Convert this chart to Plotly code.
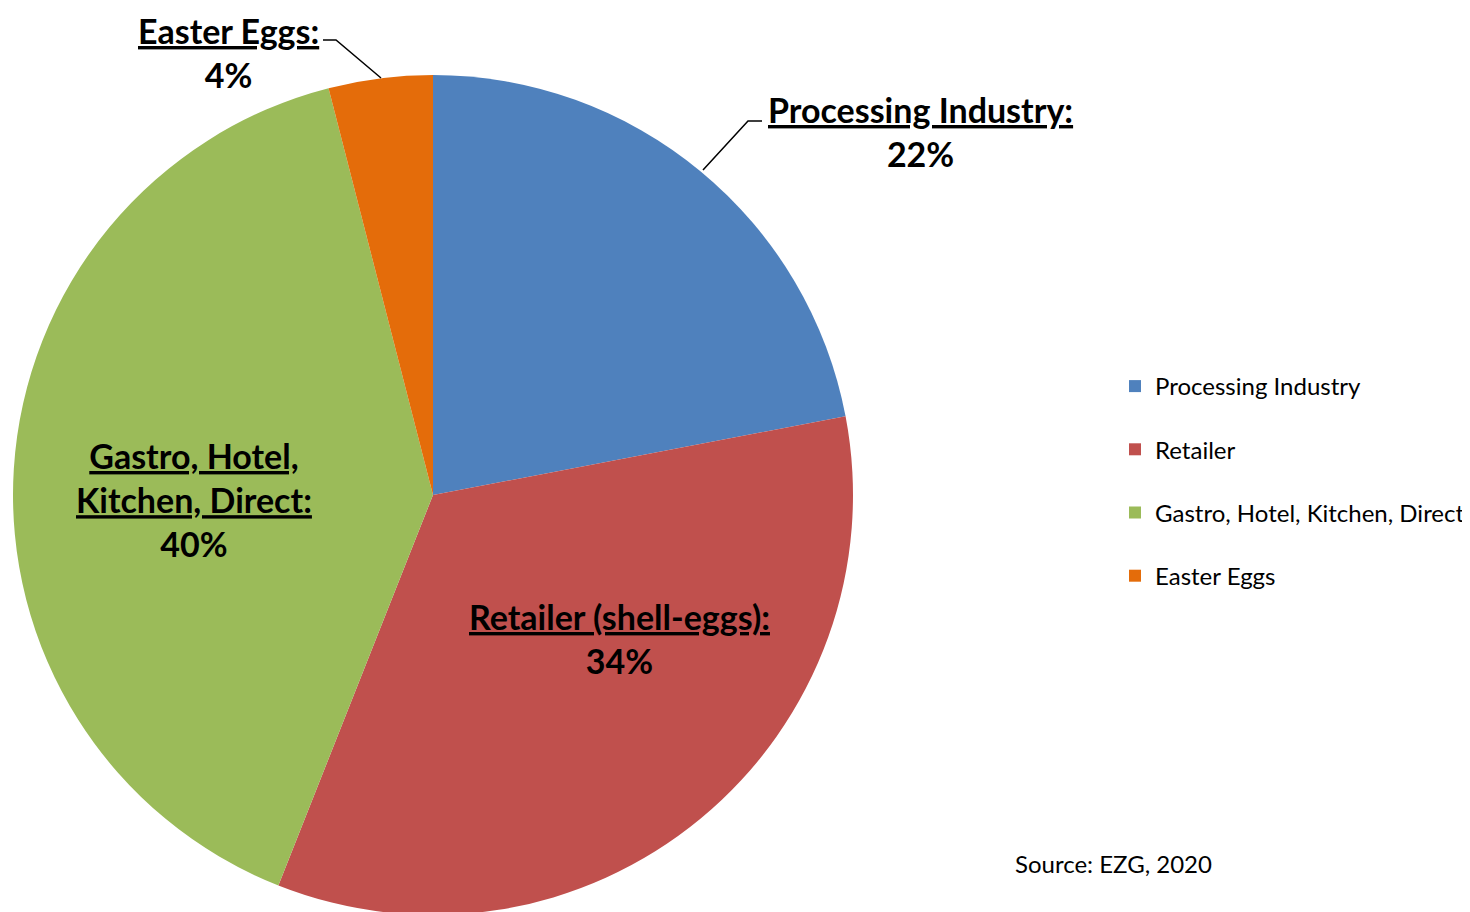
import plotly.graph_objects as go

W, H = 1470, 912
OFF = 8  # page body margin

categories = ["Processing Industry", "Retailer", "Gastro, Hotel, Kitchen, Direct", "Easter Eggs"]
values = [22, 34, 40, 4]
colors = ["#4F81BD", "#C0504D", "#9BBB59", "#E46C0A"]
label_titles = ["Processing Industry:", "Retailer (shell-eggs):", "Gastro, Hotel,<br>Kitchen, Direct:", "Easter Eggs:"]
source_text = "Source: EZG, 2020"

FONT = "Lato"

def px(x):
    return (x - OFF) / W

def py(y):
    return 1 - (y - OFF) / H

def clamp(v):
    return min(1.0, max(0.0, v))

fig = go.Figure()

# pie: screen center ~ (433, 495), radius ~ 420
cx, cy, r = 433, 495, 420
fig.add_trace(go.Pie(
    labels=categories, values=values, sort=False, direction="clockwise", rotation=0,
    marker=dict(colors=colors, line=dict(width=0)),
    textinfo="none", hoverinfo="label+percent", showlegend=False,
    domain=dict(x=[clamp(px(cx - r)), clamp(px(cx + r))], y=[clamp(py(cy + r)), clamp(py(cy - r))]),
))

# legend via dummy traces
for i, (c, col) in enumerate(zip(categories, colors)):
    fig.add_trace(go.Scatter(
        x=[None], y=[None], mode="markers", name=c,
        marker=dict(symbol="square", size=14, color=col),
        legendgroup=f"g{i}", showlegend=True,
    ))

# slice labels
label_pos = [(920, 132), (619, 638), (194, 499), (228, 53)]
for title, v, (lx, ly) in zip(label_titles, values, label_pos):
    fig.add_annotation(
        x=px(lx), y=py(ly), xref="paper", yref="paper",
        text=f"<b><u>{title}</u></b><br><b>{v}%</b>",
        showarrow=False, align="center", xanchor="center", yanchor="middle",
        borderpad=0,
        font=dict(family=FONT, size=34, color="#000000"),
    )

# leader lines
def path(points):
    return "M " + " L ".join(f"{px(a)},{py(b)}" for a, b in points)

fig.add_shape(type="path", xref="paper", yref="paper",
              path=path([(762, 121), (748, 121), (703, 170)]),
              line=dict(color="#000000", width=1.5))
fig.add_shape(type="path", xref="paper", yref="paper",
              path=path([(323, 40), (336, 40), (381, 78)]),
              line=dict(color="#000000", width=1.5))

fig.add_annotation(
    x=px(1013), y=py(863), xref="paper", yref="paper", text=source_text,
    showarrow=False, xanchor="left", yanchor="middle",
    font=dict(family=FONT, size=24, color="#000000"),
)

fig.update_layout(
    width=W, height=H, margin=dict(l=0, r=0, t=0, b=0),
    paper_bgcolor="#FFFFFF", plot_bgcolor="#FFFFFF",
    xaxis=dict(visible=False), yaxis=dict(visible=False),
    legend=dict(x=px(1115), y=py(364), xanchor="left", yanchor="top",
                font=dict(family=FONT, size=24, color="#000000"),
                tracegroupgap=29, itemsizing="constant"),
    showlegend=True,
)

fig.write_html("out.html")
